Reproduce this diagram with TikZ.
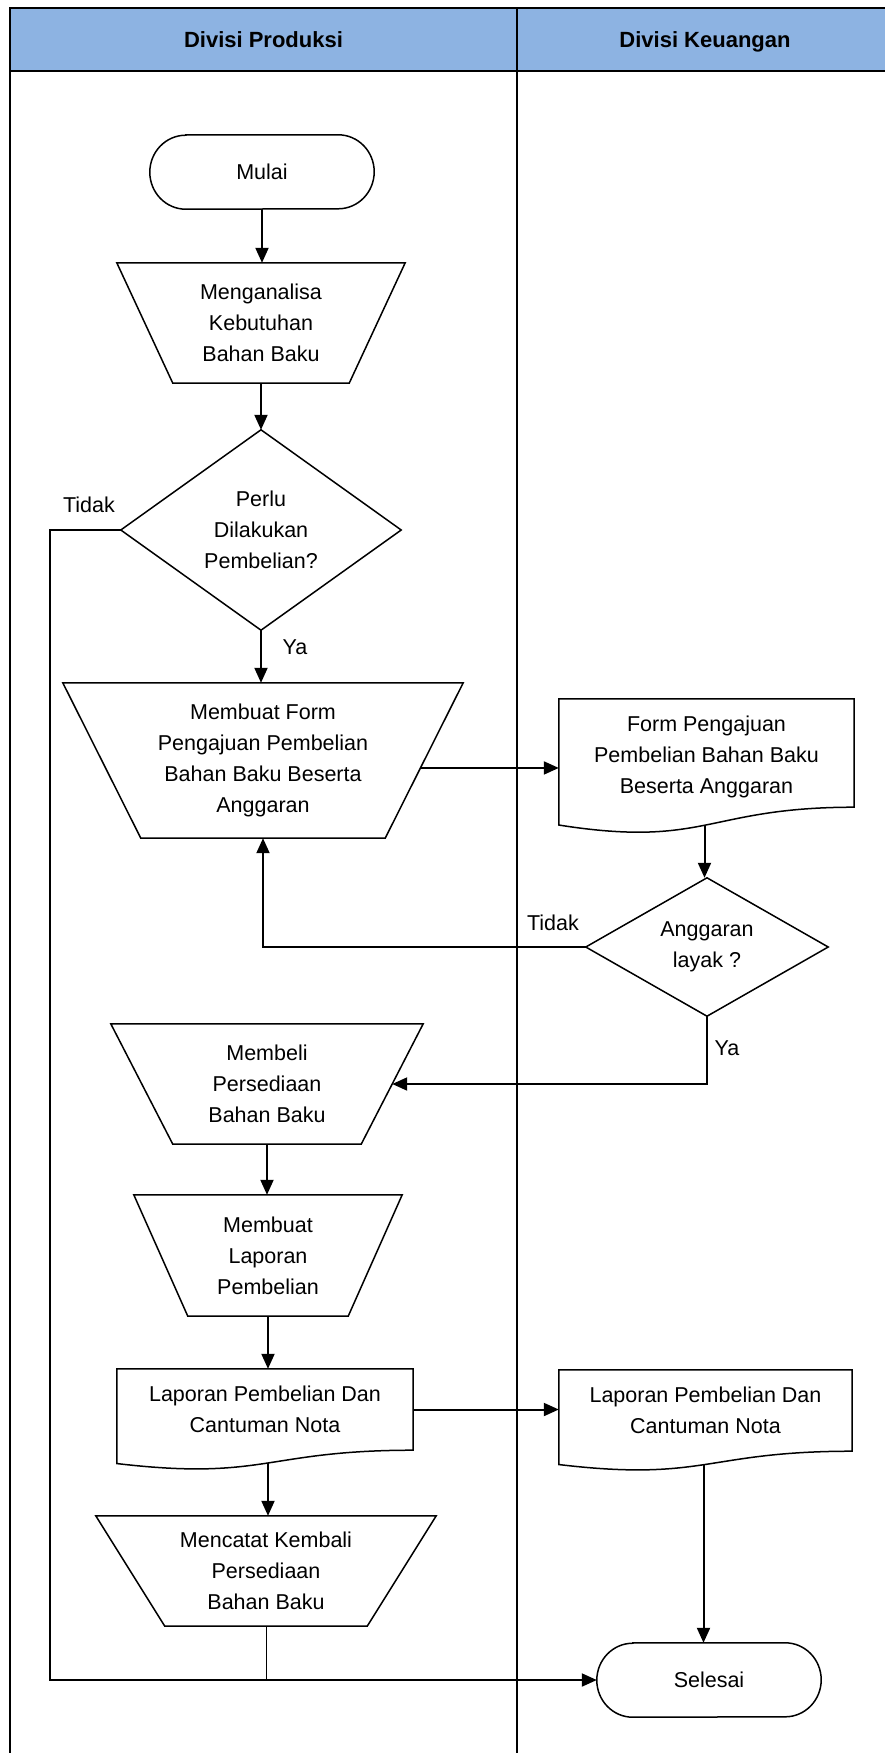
\documentclass[tikz,border=0pt]{standalone}
\usepackage{fontspec}
\setmainfont{Liberation Sans}
\usetikzlibrary{arrows.meta,calc}

\definecolor{headblue}{HTML}{8DB3E2}

\tikzset{
  txt/.style={font=\fontsize{21.5}{31}\selectfont, align=center, inner sep=0pt, draw=none},
  hdr/.style={font=\fontsize{22}{26}\selectfont\bfseries, inner sep=0pt, anchor=base},
  lbl/.style={font=\fontsize{21.5}{26}\selectfont, inner sep=0pt},
  shp/.style={draw=black, line width=1.5pt, line join=miter},
  arr/.style={draw=black, line width=2pt, line join=miter, -{Triangle[length=15pt,width=13pt]}},
  con/.style={draw=black, line width=2pt},
  lane/.style={draw=black, line width=2pt},
}

% manual operation: wider top, bottom edge pulled in by #2
\newcommand\drawmanop[2]{%
  \draw[shp] (#1.north west) -- (#1.north east) -- ([xshift=-#2pt]#1.south east)
    -- ([xshift=#2pt]#1.south west) -- cycle;}
% document: #2 is the full height with the wave, #3 lifts the flat part's end above the node's bottom
\newcommand\drawdoc[3]{%
  \draw[shp] (#1.north west) -- (#1.north east) -- ($(#1.south east)+(0,-#3)$)
    .. controls ($(#1.south)+(0,-#3)$) and ($(#1.south)+(0,0.305*#2-#3)$) ..
    ($(#1.south west)+(0,0.132*#2-#3)$) -- cycle;}
\newcommand\drawdecision[1]{%
  \draw[shp] (#1.north) -- (#1.east) -- (#1.south) -- (#1.west) -- cycle;}
\newcommand\drawterminal[1]{%
  \draw[shp] ([xshift=36pt]#1.north west) -- ([xshift=-36pt]#1.north east)
    arc[start angle=90, end angle=-90, x radius=36pt, y radius=37pt]
    -- ([xshift=36pt]#1.south west)
    arc[start angle=270, end angle=90, x radius=36pt, y radius=37pt] -- cycle;}

\begin{document}
\begin{tikzpicture}[x=1pt, y=-1pt]
\useasboundingbox (0,0) rectangle (885,1753);

% swimlanes
\begin{scope}
  \clip (0,0) rectangle (885,1753);
  \fill[headblue] (10,8) rectangle (895,71);
  \draw[lane] (10,1760) -- (10,8) -- (895,8);
  \draw[lane] (10,71) -- (895,71);
  \draw[lane] (517,8) -- (517,1760);
\end{scope}
\node[hdr] (h1) at (263.5,48) {Divisi Produksi};
\node[hdr] (h2) at (705,48) {Divisi Keuangan};

% Divisi Produksi
\node[txt, minimum width=224pt, minimum height=74pt] (mulai) at (262,172) {Mulai};
\drawterminal{mulai}

\node[txt, minimum width=288pt, minimum height=120pt] (t1) at (261,323)
  {Menganalisa\\Kebutuhan\\Bahan Baku};
\drawmanop{t1}{56}

\node[txt, minimum width=280pt, minimum height=200pt] (dm1) at (261,530)
  {Perlu\\Dilakukan\\Pembelian?};
\drawdecision{dm1}

\node[txt, minimum width=400pt, minimum height=155pt] (t2) at (263,760.5)
  {Membuat Form\\Pengajuan Pembelian\\Bahan Baku Beserta\\Anggaran};
\drawmanop{t2}{78}

\node[txt, minimum width=312pt, minimum height=120pt] (t3) at (267,1084)
  {Membeli\\Persediaan\\Bahan Baku};
\drawmanop{t3}{62}

\node[txt, minimum width=268pt, minimum height=121pt] (t4) at (268,1255.5)
  {Membuat\\Laporan\\Pembelian};
\drawmanop{t4}{54}

\node[txt, minimum width=296pt, minimum height=81pt] (d2) at (265,1409.5)
  {Laporan Pembelian Dan\\Cantuman Nota};
\drawdoc{d2}{101}{0}

\node[txt, minimum width=340pt, minimum height=110pt] (t5) at (266,1571)
  {Mencatat Kembali\\Persediaan\\Bahan Baku};
\drawmanop{t5}{69}

% Divisi Keuangan
\node[txt, minimum width=295pt, minimum height=116pt] (d1) at (706.5,757)
  {Form Pengajuan\\Pembelian Bahan Baku\\Beserta Anggaran};
\drawdoc{d1}{135}{8}

\node[txt, minimum width=242pt, minimum height=138pt] (dm2) at (707,947)
  {Anggaran\\layak ?};
\drawdecision{dm2}

\node[txt, minimum width=293pt, minimum height=81pt] (d3) at (705.5,1410.5)
  {Laporan Pembelian Dan\\Cantuman Nota};
\drawdoc{d3}{101}{0}

\node[txt, minimum width=224pt, minimum height=74pt] (sel) at (709,1680) {Selesai};
\drawterminal{sel}

% connectors
\coordinate (t2r) at ($(t2.north east)!0.548!([xshift=-78pt]t2.south east)$);
\coordinate (t3r) at ($(t3.east)+(-31,0)$);
\coordinate (d1b) at ($(d1.south)+(-2,0.131*135-8)$);
\coordinate (d2b) at ($(d2.south)+(3,0.131*101)$);
\coordinate (d3b) at ($(d3.south)+(-2,0.131*101)$);
\coordinate (lb) at (50,1680);

\draw[arr] (mulai.south) -- (mulai.south |- t1.north);
\draw[arr] (t1.south) -- (t1.south |- dm1.north);
\draw[arr] (dm1.south) -- (dm1.south |- t2.north);
\draw[arr] (dm1.west) -| (lb) -- (sel.west);
\draw[arr] (t2r) -- (t2r -| d1.west);
\draw[arr] (d1b) -- (d1b |- dm2.north);
\draw[arr] (dm2.west) -| (t2.south);
\draw[arr] (dm2.south) |- (t3r);
\draw[arr] (t3.south) -- (t3.south |- t4.north);
\draw[arr] (t4.south) -- (t4.south |- d2.north);
\draw[arr] (d2.east) -- (d2.east -| d3.west);
\draw[arr] (d2b) -- (d2b |- t5.north);
\draw[arr] (d3b) -- (d3b |- sel.north);
\draw[con, line width=1pt] (t5.south) -- (t5.south |- lb);

% branch labels
\node[lbl] (l1) at (89,505) {Tidak};
\node[lbl] (l2) at (295,647) {Ya};
\node[lbl] (l3) at (553,923) {Tidak};
\node[lbl] (l4) at (727,1048) {Ya};
\end{tikzpicture}
\end{document}
